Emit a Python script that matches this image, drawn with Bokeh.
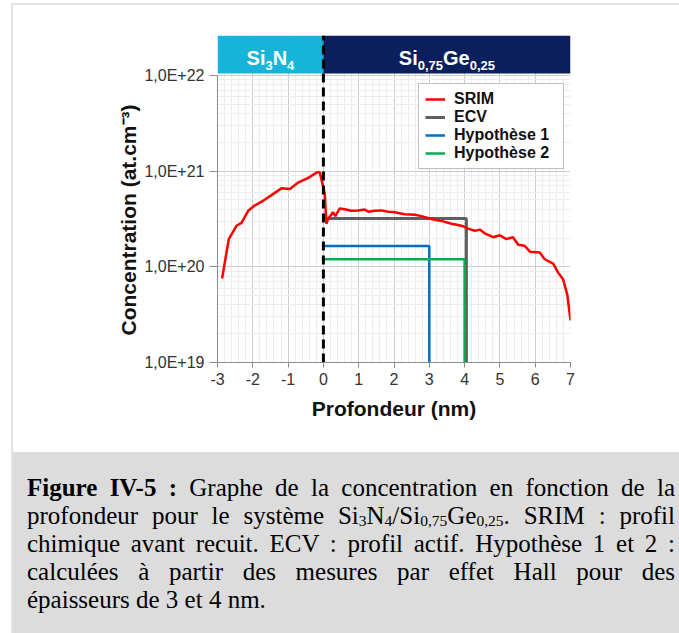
import math
from bokeh.plotting import figure
from bokeh.models import (Range1d, FixedTicker, CustomJSTickFormatter, Legend,
                          LegendItem, Title, Div, ColumnDataSource)
from bokeh.layouts import column
from bokeh.core.properties import value
from bokeh.embed import file_html
from bokeh.resources import INLINE

# ---------------- data ----------------
srim_depth = [-2.87, -2.68, -2.46, -2.32, -2.13, -1.95, -1.71, -1.47, -1.19, -0.95,
              -0.72, -0.43, -0.17, -0.10, 0.04, 0.085, 0.13, 0.23, 0.27, 0.34,
              0.46, 0.60, 0.79, 0.98, 1.17, 1.27, 1.45, 1.64, 1.83, 2.02,
              2.30, 2.59, 2.78, 3.06, 3.34, 3.63, 3.91, 4.10, 4.29, 4.43,
              4.57, 4.81, 5.00, 5.18, 5.37, 5.52, 5.70, 5.85, 6.13, 6.27,
              6.51, 6.65, 6.79, 6.91, 7.00]
srim_conc = [7.55e19, 1.95e20, 2.69e20, 2.88e20, 3.85e20, 4.37e20, 4.90e20, 5.62e20, 6.61e20, 6.50e20,
             7.59e20, 8.51e20, 9.77e20, 9.66e20, 5.75e20, 2.82e20, 3.16e20, 3.55e20, 3.72e20, 3.39e20,
             4.07e20, 4.00e20, 3.85e20, 3.89e20, 3.98e20, 3.76e20, 3.85e20, 3.89e20, 3.76e20, 3.72e20,
             3.55e20, 3.50e20, 3.39e20, 3.16e20, 3.02e20, 2.82e20, 2.69e20, 2.51e20, 2.38e20, 2.45e20,
             2.24e20, 2.04e20, 2.14e20, 1.95e20, 2.04e20, 1.70e20, 1.66e20, 1.44e20, 1.41e20, 1.20e20,
             1.08e20, 8.70e19, 7.40e19, 5.10e19, 2.75e19]

ecv_depth = [0.0, 4.05, 4.05]
ecv_conc = [3.2e20, 3.2e20, 1e19]
hyp1_depth = [0.0, 3.0, 3.0]
hyp1_conc = [1.65e20, 1.65e20, 1e19]
hyp2_depth = [0.0, 4.0, 4.0]
hyp2_conc = [1.2e20, 1.2e20, 1e19]

interface_depth = 0.0
layer_left = [-3.0, 0.0]
layer_right = [0.0, 7.0]
layer_colors = ["#16b4d8", "#0b1f5c"]
# layer names as (text, is_subscript) pieces
layer_names = [
    [("Si", False), ("3", True), ("N", False), ("4", True)],
    [("Si", False), ("0,75", True), ("Ge", False), ("0,25", True)],
]

x_ticks = [-3, -2, -1, 0, 1, 2, 3, 4, 5, 6, 7]
y_ticks = [1e19, 1e20, 1e21, 1e22]

legend_labels = ["SRIM", "ECV", "Hypothèse 1", "Hypothèse 2"]
series_colors = ["#ff0000", "#5f5f5f", "#0070c0", "#00b050"]

# ---------------- layout constants ----------------
Y_MIN = 1e19
Y_TOP = 10 ** 22.418          # top of the header band
HEADER_BOTTOM = 10 ** 22.021
HEADER_TEXT_Y = 10 ** 22.178
FONT = "Liberation Sans"
BIG, SMALL = 20, 13

x_minor = [round(-3 + 0.2 * i, 2) for i in range(51)]
y_minor = [m * 10 ** d for d in (19, 20, 21) for m in range(2, 10)]

p = figure(width=666, height=447, x_range=Range1d(-3, 7),
           y_range=Range1d(Y_MIN, Y_TOP), y_axis_type="log",
           output_backend="svg", toolbar_location=None,
           min_border_left=204, min_border_right=109,
           min_border_top=30, min_border_bottom=90)
p.outline_line_color = None
p.background_fill_color = "white"
p.border_fill_color = "white"

# grids
for g, tk, mn in ((p.xgrid, x_ticks, x_minor), (p.ygrid, y_ticks, y_minor)):
    g.ticker = FixedTicker(ticks=tk, minor_ticks=mn)
    g.grid_line_color = "#cdcdcd"
    g.grid_line_width = 1
    g.minor_grid_line_color = "#ededed"
    g.minor_grid_line_width = 1

# axes
p.xaxis.ticker = FixedTicker(ticks=x_ticks, minor_ticks=[])
p.xaxis.formatter = CustomJSTickFormatter(code="return tick.toString();")
p.yaxis.ticker = FixedTicker(ticks=y_ticks, minor_ticks=[])
p.yaxis.bounds = (1e19, 1e22)
p.yaxis.formatter = CustomJSTickFormatter(
    code="return '1,0E+' + Math.round(Math.log10(tick));")
for ax in (p.xaxis[0], p.yaxis[0]):
    ax.axis_line_color = "#8c8c8c"
    ax.major_tick_line_color = "#8c8c8c"
    ax.minor_tick_line_color = None
    ax.major_tick_in = 0
    ax.major_label_text_font = FONT
    ax.major_label_text_font_size = "16px"
    ax.major_label_text_color = "#333333"
p.xaxis.major_tick_out = 5
p.xaxis.major_label_standoff = 5
p.yaxis.major_tick_out = 8
p.yaxis.major_label_standoff = 5
p.xaxis.axis_label = "Profondeur (nm)"
p.xaxis.axis_label_text_font = FONT
p.xaxis.axis_label_text_font_size = "21px"
p.xaxis.axis_label_text_font_style = "bold"
p.xaxis.axis_label_text_color = "#111111"
p.xaxis.axis_label_standoff = 9

# header bands (layers)
p.quad(left=layer_left, right=layer_right, bottom=HEADER_BOTTOM, top=Y_TOP,
       fill_color=layer_colors, line_color=None)

# header texts with subscripts
W = {'S': 667, 'i': 278, 'N': 722, 'G': 778, 'e': 556, ',': 278}
for d in "0123456789":
    W[d] = 556
big = dict(x=[], y=[], text=[], xo=[])
small = dict(x=[], y=[], text=[], xo=[])
for name, l, r in zip(layer_names, layer_left, layer_right):
    cx = (l + r) / 2
    widths = [sum(W[c] for c in t) / 1000 * (SMALL if s else BIG) for t, s in name]
    off = -sum(widths) / 2
    for (t, s), w in zip(name, widths):
        tgt = small if s else big
        tgt["x"].append(cx)
        tgt["y"].append(HEADER_TEXT_Y)
        tgt["text"].append(t)
        tgt["xo"].append(off)
        off += w
p.text(x="x", y="y", text="text", x_offset="xo", y_offset=0,
       source=ColumnDataSource(big), text_font=value(FONT), text_font_size="20px",
       text_font_style="bold", text_color="white", text_align="left",
       text_baseline="alphabetic")
p.text(x="x", y="y", text="text", x_offset="xo", y_offset=7,
       source=ColumnDataSource(small), text_font=value(FONT), text_font_size="13px",
       text_font_style="bold", text_color="white", text_align="left",
       text_baseline="alphabetic")

# series
r_ecv = p.line(ecv_depth, ecv_conc, line_color=series_colors[1], line_width=3)
r_h1 = p.line(hyp1_depth, hyp1_conc, line_color=series_colors[2], line_width=2.5)
r_h2 = p.line(hyp2_depth, hyp2_conc, line_color=series_colors[3], line_width=2.5)
r_srim = p.line(srim_depth, srim_conc, line_color=series_colors[0], line_width=2.5)

# interface
p.line([interface_depth, interface_depth], [Y_MIN, Y_TOP], line_color="black",
       line_width=3, line_dash="9 5")

legend = Legend(items=[LegendItem(label=lb, renderers=[r]) for lb, r in
                       zip(legend_labels, [r_srim, r_ecv, r_h1, r_h2])],
                location=(201, 193))
legend.label_text_font = FONT
legend.label_text_font_size = "16px"
legend.label_text_font_style = "bold"
legend.label_text_color = "#111111"
legend.glyph_width = 20
legend.glyph_height = 16
legend.label_height = 16
legend.label_width = 103
legend.spacing = 0
legend.padding = 6
legend.label_standoff = 9
legend.border_line_color = "#7f7f7f"
legend.border_line_width = 1
legend.background_fill_alpha = 1
p.add_layout(legend)

ytitle = Title(text="Concentration (at.cm⁻³)", align="left", offset=27,
               text_font=FONT, text_font_size="21px", text_font_style="bold",
               text_color="#111111", standoff=4)
p.add_layout(ytitle, "left")

# caption
sub = '<sub style="font-size:62%;vertical-align:-0.1em;line-height:0">{}</sub>'
lines = [
    '<b>Figure IV-5 :</b> Graphe de la concentration en fonction de la',
    'profondeur pour le système Si' + sub.format("3") + 'N' + sub.format("4") +
    '/Si' + sub.format("0,75") + 'Ge' + sub.format("0,25") + '. SRIM : profil',
    'chimique avant recuit. ECV : profil actif. Hypothèse 1 et 2 :',
    'calculées à partir des mesures par effet Hall pour des',
    'épaisseurs de 3 et 4 nm.',
]
html = ('<div style="box-sizing:content-box;width:648px;padding:22px 4px 0 14px;'
        'font-family:\'Liberation Serif\';font-size:25px;color:#000;">')
for i, ln in enumerate(lines):
    last = i == len(lines) - 1
    html += ('<div style="width:648px;height:28px;line-height:28px;text-align:%s;text-align-last:%s;">%s</div>'
             % ("left" if last else "justify", "left" if last else "justify", ln))
html += '</div>'
cap = Div(text=html, width=666, height=181, margin=(0, 0, 0, 0),
          styles={"background-color": "#dcdcdc", "overflow": "hidden"})

layout = column(p, cap, spacing=0,
                styles={"margin-left": "11px", "margin-top": "3px",
                        "border-left": "2px solid #e3e3e3",
                        "border-top": "2px solid #e3e3e3"})

open("out.html", "w", encoding="utf-8").write(file_html(layout, INLINE))
